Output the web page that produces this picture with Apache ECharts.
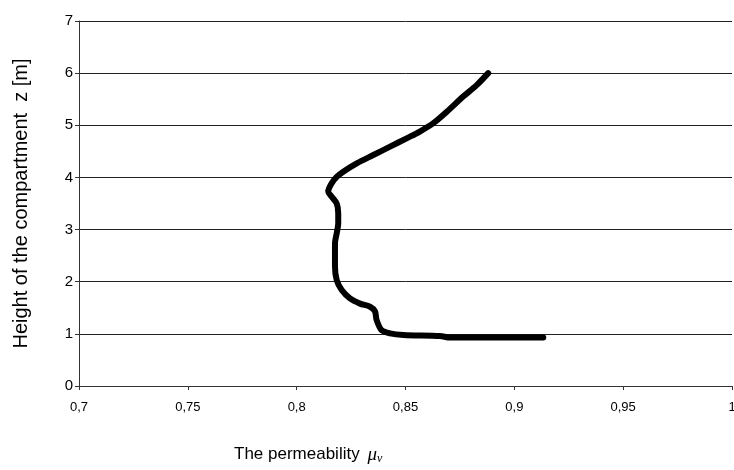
<!DOCTYPE html>
<html>
<head>
<meta charset="utf-8">
<script src="https://cdn.jsdelivr.net/npm/echarts@6/dist/echarts.min.js"></script>
<style>
  html, body { margin: 0; padding: 0; background: #fff; }
  #chart { width: 734px; height: 470px; }
</style>
</head>
<body>
<div id="chart"></div>
<script>
// permeability (x) vs height z (y)
const permeability = [0.888, 0.8827, 0.8765, 0.869, 0.8628, 0.8566, 0.8505, 0.8429, 0.8352, 0.8276,
  0.8214, 0.8184, 0.8161, 0.8145, 0.8161, 0.8184, 0.8191, 0.8191, 0.8184, 0.8176,
  0.8176, 0.8184, 0.8207, 0.8245, 0.8291, 0.8337, 0.836, 0.8367, 0.839, 0.8429,
  0.849, 0.8658, 0.8704, 0.9133]
const height = [6.0, 5.77, 5.55, 5.26, 5.04, 4.88, 4.75, 4.59, 4.43, 4.27,
  4.11, 4.01, 3.89, 3.73, 3.63, 3.50, 3.31, 3.12, 2.93, 2.74,
  2.29, 2.03, 1.84, 1.68, 1.58, 1.52, 1.43, 1.27, 1.07, 1.01,
  0.98, 0.96, 0.93, 0.93]
const xTicks = { min: 0.7, max: 1, step: 0.05 }
const yTicks = { min: 0, max: 7, step: 1 }

const chart = echarts.init(document.getElementById('chart'))
const font = 'Liberation Sans, Arial, sans-serif'

const option = {
  animation: false,
  textStyle: { fontFamily: font, color: '#000' },
  title: {
    left: 229,
    top: 439,
    text: 'The permeability {mu|μ}{v|v}',
    textStyle: {
      fontFamily: font,
      fontSize: 17,
      fontWeight: 'normal',
      color: '#000',
      rich: {
        mu: { fontFamily: 'Liberation Serif, serif', fontStyle: 'italic', fontSize: 19, color: '#000', padding: [0, 0, 0, 3] },
        v: { fontFamily: 'Liberation Serif, serif', fontStyle: 'italic', fontSize: 12, color: '#000', padding: [9, 0, 0, 0] }
      }
    }
  },
  grid: { left: 79, right: 2, top: 21, bottom: 84, outerBoundsMode: 'none' },
  xAxis: {
    type: 'value',
    min: xTicks.min,
    max: xTicks.max,
    interval: xTicks.step,
    axisLine: { onZero: false, lineStyle: { color: '#333', width: 1 } },
    axisTick: { show: true, length: 4, lineStyle: { color: '#333' } },
    splitLine: { show: false },
    axisLabel: {
      fontSize: 13,
      color: '#000',
      margin: 15,
      formatter: v => String(+v.toFixed(2)).replace('.', ',')
    }
  },
  yAxis: {
    type: 'value',
    min: yTicks.min,
    max: yTicks.max,
    interval: yTicks.step,
    name: 'Height of the compartment  z [m]',
    nameLocation: 'middle',
    nameGap: 48,
    nameTextStyle: { fontSize: 20, color: '#000', fontFamily: font },
    axisLine: { show: true, lineStyle: { color: '#333', width: 1 } },
    axisTick: { show: true, length: 4, lineStyle: { color: '#333' } },
    splitLine: { show: true, lineStyle: { color: '#222', width: 1 } },
    axisLabel: { fontSize: 15, color: '#000', margin: 6 }
  },
  series: [{
    type: 'line',
    data: permeability.map((p, i) => [p, height[i]]),
    showSymbol: false,
    smooth: 0.3,
    lineStyle: { color: '#000', width: 6, cap: 'round', join: 'round' }
  }]
}
chart.setOption(option)
</script>
</body>
</html>
